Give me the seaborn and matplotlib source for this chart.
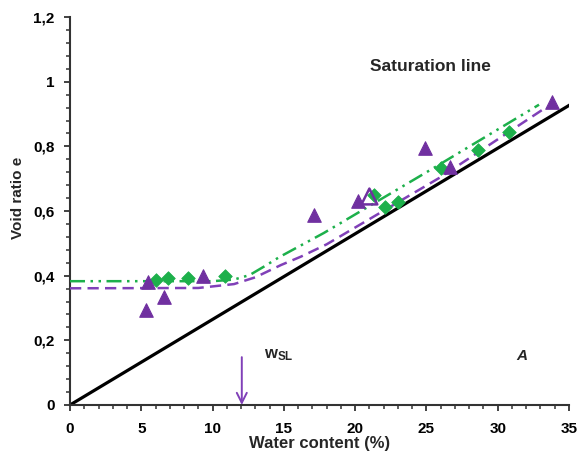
import matplotlib
matplotlib.use("Agg")
import matplotlib.pyplot as plt
import seaborn as sns
import numpy as np
import pandas as pd
from matplotlib.ticker import MultipleLocator, FuncFormatter

# ---- data ----
tri_w = [5.35, 5.5, 6.6, 9.3, 17.1, 20.2, 24.9, 26.65, 33.8]
tri_e = [0.294, 0.380, 0.335, 0.400, 0.588, 0.630, 0.795, 0.736, 0.936]
hollow_w = [21.0]
hollow_e = [0.645]
dia_w = [6.05, 6.9, 8.3, 10.9, 21.3, 22.1, 23.0, 26.05, 28.6, 30.8]
dia_e = [0.387, 0.392, 0.392, 0.400, 0.650, 0.614, 0.627, 0.733, 0.790, 0.845]
green_fit_w = [0, 10.0, 11.5, 12.6, 13.6, 14.7, 17.8, 25.5, 32.9]
green_fit_e = [0.383, 0.383, 0.388, 0.402, 0.428, 0.458, 0.532, 0.733, 0.929]
purple_fit_w = [0, 9.0, 11.5, 13.0, 14.8, 16.2, 18.0, 26.0, 33.3]
purple_fit_e = [0.361, 0.362, 0.374, 0.395, 0.433, 0.459, 0.497, 0.705, 0.918]
sat_w = [0, 35.2]
sat_e = [0, 0.932]
wsl = 12.05

PURPLE = "#7030A0"
GREEN = "#1DB04B"

sns.set_style("ticks")
plt.rcParams['font.family'] = ['Liberation Sans', 'DejaVu Sans']
plt.rcParams['mathtext.fontset'] = 'custom'
plt.rcParams['mathtext.bf'] = 'Liberation Sans:bold'
plt.rcParams['mathtext.rm'] = 'Liberation Sans'

fig = plt.figure(figsize=(5.8, 4.62), dpi=100)
ax = fig.add_axes([0.1207, 0.1234, 0.981 - 0.1207, 0.963 - 0.1234])

sns.lineplot(x=sat_w, y=sat_e, ax=ax, color="black", lw=2.3, zorder=2)
sns.lineplot(x=purple_fit_w, y=purple_fit_e, ax=ax, color="#8040B8", lw=1.8,
             zorder=3).lines[-1].set_dashes([4.5, 2.5])
ln = sns.lineplot(x=green_fit_w, y=green_fit_e, ax=ax, color=GREEN, lw=1.8, zorder=3).lines[-1]
ln.set_dashes([6, 2.2, 1, 2.2, 1, 2.2])

sns.scatterplot(x=dia_w, y=dia_e, ax=ax, marker="D", s=48, color=GREEN,
                edgecolor=GREEN, zorder=4)
sns.scatterplot(x=tri_w, y=tri_e, ax=ax, marker="^", s=95, color=PURPLE,
                edgecolor=PURPLE, zorder=5)
sns.scatterplot(x=hollow_w, y=hollow_e, ax=ax, marker="^", s=130, facecolor="none",
                edgecolor=PURPLE, linewidth=1.8, zorder=5)

ax.annotate("", xy=(wsl, 0.0), xytext=(wsl, 0.148),
            arrowprops=dict(arrowstyle="->", color="#8040B8", lw=1.4,
                            mutation_scale=18, shrinkA=0, shrinkB=0))

ax.text(25.3, 1.047, "Saturation line", fontsize=12.5, fontweight="bold",
        ha="center", va="center")
ax.text(13.6, 0.155, r"$\mathbf{w_{SL}}$", fontsize=12, ha="left", va="center")
ax.text(31.7, 0.152, "A", fontsize=11, fontweight="bold", fontstyle="italic",
        ha="center", va="center")

ax.set_xlim(0, 35)
ax.set_ylim(0, 1.2)
ax.xaxis.set_major_locator(MultipleLocator(5))
ax.xaxis.set_minor_locator(MultipleLocator(1))
ax.yaxis.set_major_locator(MultipleLocator(0.2))
ax.yaxis.set_minor_locator(MultipleLocator(0.04))

def fmt(v, pos):
    s = f"{v:.1f}".rstrip("0").rstrip(".")
    return s.replace(".", ",")
ax.yaxis.set_major_formatter(FuncFormatter(fmt))

ax.tick_params(which="major", direction="out", length=4, width=1.3, colors="#333333",
               labelsize=11, labelcolor="black")
ax.tick_params(axis="x", which="major", pad=8)
ax.tick_params(axis="y", which="major", pad=7)
ax.tick_params(which="minor", direction="out", length=3, width=1.1, colors="#333333")
for lab in ax.get_xticklabels() + ax.get_yticklabels():
    lab.set_fontweight("bold")

for sp in ["top", "right"]:
    ax.spines[sp].set_visible(False)
for sp in ["left", "bottom"]:
    ax.spines[sp].set_linewidth(1.5)
    ax.spines[sp].set_color("#333333")

ax.set_xlabel("Water content (%)", fontsize=12, fontweight="bold", labelpad=0)
ax.set_ylabel("Void ratio e", fontsize=11, fontweight="bold")
ax.yaxis.set_label_coords(-0.09, 0.534)

fig.savefig("out.png", dpi=100)
